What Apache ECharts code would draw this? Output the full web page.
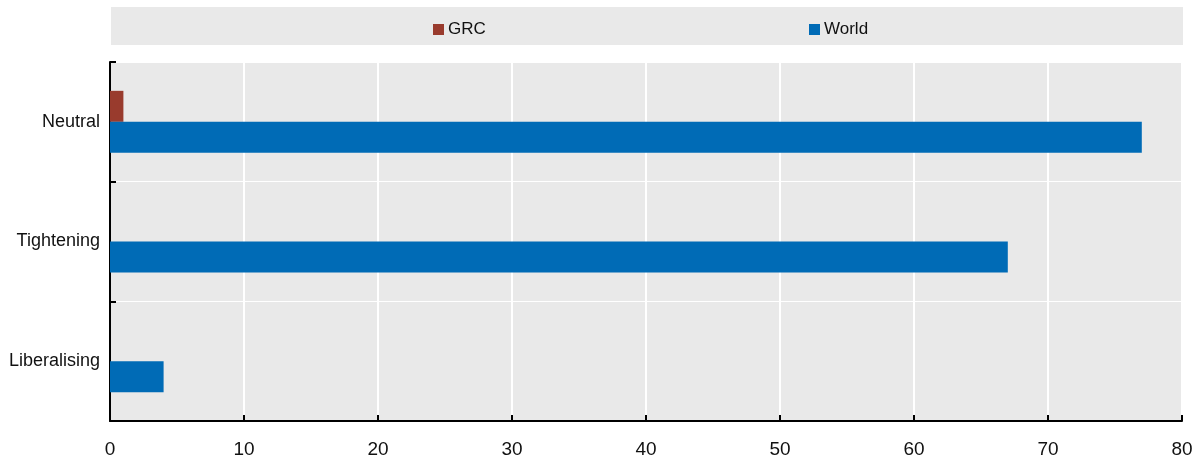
<!DOCTYPE html>
<html>
<head>
<meta charset="utf-8">
<script src="https://cdn.jsdelivr.net/npm/echarts@6/dist/echarts.min.js"></script>
<style>
  html, body { margin: 0; padding: 0; background: #fff; }
  #chart { width: 1196px; height: 460px; }
</style>
</head>
<body>
<div id="chart"></div>
<script>
// categories top to bottom
const categories = ["Neutral", "Tightening", "Liberalising"];
const grcValues = [1, 0, 0];
const worldValues = [77, 67, 4];
const xTicks = { min: 0, max: 80, step: 10 };

const chart = echarts.init(document.getElementById("chart"));
const font = "'Liberation Sans', Arial, sans-serif";

const legendText = { fontSize: 17, color: "#111", fontFamily: font, padding: [0, 0, 0, -1] };

const option = {
  animation: false,
  textStyle: { fontFamily: font },
  graphic: [
    {
      type: "rect",
      left: 111,
      top: 7,
      shape: { width: 1072, height: 38 },
      style: { fill: "#e9e9e9" },
      z: -1,
    },
  ],
  legend: [
    {
      data: ["GRC"],
      left: 428,
      top: 16,
      icon: "rect",
      itemWidth: 11,
      itemHeight: 11,
      textStyle: legendText,
    },
    {
      data: ["World"],
      left: 804,
      top: 16,
      icon: "rect",
      itemWidth: 11,
      itemHeight: 11,
      textStyle: legendText,
    },
  ],
  grid: {
    left: 110,
    right: 14,
    top: 62,
    bottom: 39,
    show: true,
    backgroundColor: "#e9e9e9",
    borderWidth: 0,
  },
  xAxis: {
    type: "value",
    min: xTicks.min,
    max: xTicks.max,
    interval: xTicks.step,
    axisLine: { show: true, lineStyle: { color: "#000", width: 2 } },
    axisTick: { show: true, inside: true, length: 6, lineStyle: { color: "#000", width: 2 } },
    axisLabel: { color: "#111", fontSize: 19, margin: 19, fontFamily: font },
    splitLine: { show: true, lineStyle: { color: "#fff", width: 2 } },
  },
  yAxis: {
    type: "category",
    data: categories,
    inverse: true,
    axisLine: { show: true, lineStyle: { color: "#000", width: 2 } },
    axisTick: { show: true, inside: true, length: 6, lineStyle: { color: "#000", width: 2 } },
    axisLabel: { color: "#111", fontSize: 18, margin: 10, fontFamily: font },
    splitLine: { show: true, lineStyle: { color: "#fff", width: 1 } },
  },
  series: [
    {
      name: "GRC",
      type: "bar",
      data: grcValues,
      barWidth: 31,
      barGap: "0%",
      itemStyle: { color: "#993b2d" },
    },
    {
      name: "World",
      type: "bar",
      data: worldValues,
      barWidth: 31,
      barGap: "0%",
      itemStyle: { color: "#006bb6" },
    },
  ],
};

chart.setOption(option);
</script>
</body>
</html>
